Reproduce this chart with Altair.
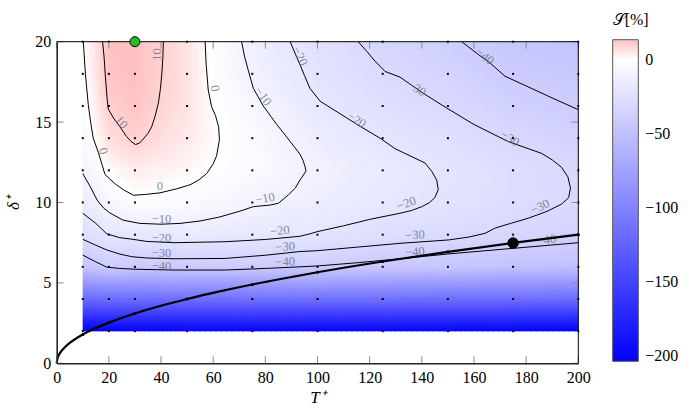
import altair as alt
import pandas as pd

FONT = "Liberation Serif"
W, H = 521.6, 321.6

# ---- grid of the simulation (T+, delta+) and the value S [%] at each node ----
T_VALUES = [10, 20, 30, 50, 75, 100, 125, 150, 175, 200]
D_VALUES = [20, 18, 16, 14, 12, 10, 8, 6, 4, 2]
S_D20 = [-0.5, 13.0, 13.5, 6.0, -13.0, -24.0, -33.0, -38.5, -45.0, -48.0]
S_D18 = [-1.5, 12.5, 13.5, 6.5, -11.0, -22.0, -29.5, -34.5, -41.0, -44.0]
S_D16 = [-3.0, 10.5, 12.5, 6.0, -7.0, -19.0, -26.0, -30.0, -37.0, -40.0]
S_D14 = [-4.5, 7.0, 10.3, 4.5, -4.0, -14.5, -20.5, -26.0, -31.0, -36.0]
S_D12 = [-9.5, 1.0, 4.0, 2.0, -4.0, -11.0, -17.0, -21.5, -27.0, -31.0]
S_D10 = [-16.0, -7.0, -1.0, -4.0, -9.0, -14.0, -18.5, -22.0, -27.5, -29.5]
S_D8 = [-27.0, -19.5, -19.0, -16.0, -18.0, -20.5, -26.0, -29.0, -32.0, -35.0]
S_D6 = [-47.0, -40.0, -42.0, -41.0, -40.0, -40.0, -43.0, -45.0, -48.0, -50.0]
S_D4 = [-118.0, -116.0, -115.0, -114.0, -113.0, -113.0, -113.0, -114.0, -115.0, -116.0]
S_D2 = [-203.0, -202.0, -201.0, -200.0, -200.0, -200.0, -200.0, -200.0, -201.0, -202.0]
S_ROWS = [S_D20, S_D18, S_D16, S_D14, S_D12, S_D10, S_D8, S_D6, S_D4, S_D2]

# ---- contour lines (T+, delta+) ----
CONTOUR_P10 = [(17.6, 20), (18.2, 19), (18.6, 18), (19.3, 16.5), (19.8, 15.8), (22, 15.2), (24.3, 14.7),
               (26.8, 14.1), (28.5, 13.8), (30.2, 13.6), (31.8, 13.7), (33.2, 13.95), (35, 14.3),
               (36.4, 14.7), (37.8, 15.4), (39, 16.2), (39.8, 17.1), (40.3, 18), (40.7, 19), (40.9, 20)]
CONTOUR_0 = [(10.2, 20), (11, 18), (12.1, 16.1), (13, 15), (14, 14), (16, 13.1), (17.5, 12.3), (18.5, 11.75),
             (20.4, 11.45), (22.5, 11.15), (25.5, 10.8), (29.4, 10.45), (34, 10.5), (39.6, 10.6), (46, 10.85),
             (51.1, 11.1), (54.5, 11.4), (57.5, 11.8), (60, 12.4), (61.3, 12.9), (62.4, 13.9), (62.1, 14.7),
             (60.9, 15.4), (59.4, 15.95), (58.1, 17.0), (57.3, 18.6), (56.9, 20)]
CONTOUR_M10 = [(10, 11.8), (12.8, 11.0), (15.5, 10.15), (18, 9.65), (20.4, 9.35), (25.5, 8.9), (31.9, 8.7),
               (40, 8.65), (47.3, 8.7), (55, 8.85), (62.5, 9.1), (70, 9.45), (75.4, 9.74), (81.8, 9.84),
               (85, 9.95), (88.8, 10.47), (91.5, 10.9), (93.3, 11.4), (95.6, 11.95), (95.2, 12.25),
               (94.5, 12.6), (93.3, 13.0), (89.5, 13.8), (84.4, 14.85), (79.2, 16.0), (75.4, 17.1),
               (73.5, 18.2), (72, 19.1), (70.9, 20)]
CONTOUR_M20 = [(10, 9.33), (15, 8.7), (19.2, 8.05), (24, 7.82), (28.8, 7.72), (34.5, 7.58), (45, 7.5),
               (64.5, 7.56), (80, 7.7), (93.3, 7.9), (97.1, 8.05), (99.7, 8.18), (110, 8.55), (120, 8.95),
               (131.6, 9.33), (136, 9.5), (140, 9.74), (143, 10.0), (145, 10.3), (146.3, 10.8), (145.7, 11.4),
               (143.8, 11.94), (141.2, 12.46), (129.7, 13.35), (124, 14.0), (116.3, 14.74), (101, 16.3),
               (97.1, 17.1), (95, 17.9), (93.3, 18.57), (89.5, 20)]
CONTOUR_M30 = [(10, 7.71), (14.5, 7.38), (19.2, 7.05), (24, 6.8), (28.8, 6.63), (34.5, 6.55), (45, 6.5),
               (64.5, 6.52), (80, 6.72), (93.3, 6.95), (99.7, 7.0), (115, 7.22), (131.6, 7.46), (150.2, 7.67),
               (158, 7.85), (164.2, 8.08), (168, 8.4), (174, 8.7), (180.8, 9.02), (188, 9.45), (193.6, 9.9),
               (196.3, 10.3), (197, 10.9), (196, 11.6), (193.5, 12.2), (190, 12.65), (186, 13.05),
               (173, 13.8), (160, 14.85), (149.5, 15.88), (140, 16.85), (131.6, 17.8), (125.9, 18.15),
               (122, 18.8), (118.9, 19.4), (115.6, 20)]
CONTOUR_M40_LOW = [(10, 6.73), (14.5, 6.35), (19.2, 5.98), (24, 5.9), (30, 5.85), (45, 5.8), (64.5, 5.8),
                   (80, 5.9), (93.3, 6.0), (99.7, 6.05), (115, 6.25), (131.6, 6.5), (150, 6.8),
                   (175.1, 7.15), (200, 7.5)]
CONTOUR_M40_HIGH = [(155.3, 20), (161.7, 19.2), (166, 18.7), (171.9, 17.85), (180, 17.25), (190, 16.5),
                    (200, 15.77)]
CONTOURS = [CONTOUR_P10, CONTOUR_0, CONTOUR_M10, CONTOUR_M20, CONTOUR_M30, CONTOUR_M40_LOW, CONTOUR_M40_HIGH]

# ---- contour labels ----
LABEL_TEXT = ["10", "10", "0", "0", "0", "−10", "−10", "−10", "−20", "−20", "−20", "−20", "−20",
              "−30", "−30", "−30", "−30", "−30", "−30", "−40", "−40", "−40", "−40", "−40"]
LABEL_T = [38.3, 24.9, 17.9, 39.6, 60.7, 40.2, 79.9, 79.2, 40.2, 85.6, 134.1, 93.3, 115.0,
           40.2, 87.6, 137.4, 185.3, 138.0, 173.8, 40.2, 87.6, 137.4, 187.8, 164.2]
LABEL_D = [19.2, 15.0, 13.2, 11.0, 17.1, 8.97, 10.26, 16.6, 7.8, 8.25, 9.95, 19.1, 15.15,
           6.86, 7.25, 7.98, 9.74, 17.1, 14.0, 6.08, 6.32, 6.94, 7.67, 19.1]
LABEL_ANGLE = [270, 50, 70, 0, 80, 0, 350, 55, 0, 355, 340, 65, 32,
               0, 357, 357, 335, 32, 30, 0, 357, 356, 352, 38]

# ---- thick curve ----
CURVE_T = [0, 0.25, 0.5, 1, 2, 3, 5, 7.5, 10, 15, 20, 30, 40, 50, 62.5, 75, 87.5, 100, 125, 150, 175, 200]
CURVE_D = [0, 0.28, 0.4, 0.57, 0.8, 0.98, 1.27, 1.55, 1.79, 2.19, 2.53, 3.1, 3.58, 4.0, 4.47, 4.9,
           5.29, 5.66, 6.33, 6.93, 7.49, 8.0]

GREEN_POINT = {"T": [30], "d": [20]}
BLACK_POINT = {"T": [175], "d": [7.48]}

X_TICKS = [0, 20, 40, 60, 80, 100, 120, 140, 160, 180, 200]
Y_TICKS = [0, 5, 10, 15, 20]
CBAR_TICKS = [-200, -150, -100, -50, 0]

# ---------------- tables ----------------
nodes = pd.DataFrame([{"T": t, "d": d, "S": s}
                      for d, row in zip(D_VALUES, S_ROWS) for t, s in zip(T_VALUES, row)])
grid = pd.DataFrame([{"T": t, "d": d} for d in D_VALUES for t in T_VALUES])
cont = pd.DataFrame([{"cid": i, "k": k, "T": p[0], "d": p[1]}
                     for i, c in enumerate(CONTOURS) for k, p in enumerate(c)])
labels = pd.DataFrame({"txt": LABEL_TEXT, "T": LABEL_T, "d": LABEL_D, "ang": LABEL_ANGLE})
curve = pd.DataFrame({"T": CURVE_T, "d": CURVE_D})

# ---------------- scales / axes ----------------
xs = alt.Scale(domain=[0, 200], nice=False, zero=False)
ys = alt.Scale(domain=[0, 20], nice=False, zero=False)
x_axis = alt.Axis(values=X_TICKS, ticks=False, grid=False, domainColor="#262626", domainWidth=1.6,
                  labelFont=FONT, labelFontSize=16, labelColor="black", labelPadding=6, labelFlush=False,
                  labelOverlap=False, format="d", title="T⁺", titleFont=FONT, titleFontSize=17,
                  titleFontStyle="italic", titleFontWeight="normal", titleColor="black", titlePadding=4,
                  zindex=1)
y_axis = alt.Axis(values=Y_TICKS, ticks=False, grid=False, domainColor="#262626", domainWidth=1.6,
                  labelFont=FONT, labelFontSize=16, labelColor="black", labelPadding=6, labelFlush=False,
                  labelOverlap=False, format="d", title="δ⁺", titleFont=FONT, titleFontSize=17,
                  titleFontStyle="italic", titleFontWeight="normal", titleColor="black", titlePadding=12,
                  zindex=1)


def X(f):
    return alt.X(f, type="quantitative", scale=xs, axis=x_axis)


def Y(f):
    return alt.Y(f, type="quantitative", scale=ys, axis=y_axis)


cscale = alt.Scale(domain=[-203.4, 0, 13.5], range=["#0000ff", "#ffffff", "#ffc0c0"],
                   interpolate="rgb", zero=False, nice=False)
clegend = alt.Legend(orient="none", legendX=556, legendY=-30, direction="vertical",
                     gradientLength=H, gradientThickness=25.6, values=CBAR_TICKS,
                     labelFont=FONT, labelFontSize=16, labelColor="black", labelOffset=7,
                     title="𝒮[%]", titleFont=FONT, titleFontSize=16, titleFontWeight="normal",
                     titleColor="black", titlePadding=12, gradientStrokeColor="#555",
                     gradientStrokeWidth=1)

# ---------------- heat map (smooth shading between the grid nodes) ----------------
# each small cell overlaps the next one; drawing order bottom-to-top / left-to-right hides seams
NU = 12
heat = (
    alt.Chart(nodes)
    .transform_window(S_up="lead(S)", d_up="lead(d)", groupby=["T"],
                      sort=[alt.SortField("d", order="ascending")])
    .transform_window(T_right="lead(T)", S_right="lead(S)", S_upright="lead(S_up)", groupby=["d"],
                      sort=[alt.SortField("T", order="ascending")])
    .transform_filter("isValid(datum.S_up) && isValid(datum.T_right)")
    .transform_calculate(nv="datum.d <= 4 ? 28 : 10")
    .transform_calculate(u=f"sequence(0, {NU})")
    .transform_flatten(["u"])
    .transform_calculate(v="sequence(0, datum.nv)")
    .transform_flatten(["v"])
    .transform_calculate(
        a=f"(datum.u + 0.5) / {NU}",
        b="(datum.v + 0.5) / datum.nv",
        x0=f"datum.T + (datum.T_right - datum.T) * datum.u / {NU}",
        x1=f"datum.T + (datum.T_right - datum.T) * (datum.u + 1.7) / {NU}",
        y0="datum.d + (datum.d_up - datum.d) * datum.v / datum.nv",
        y1="datum.d + (datum.d_up - datum.d) * (datum.v + 1.7) / datum.nv",
        val="datum.S * (1 - datum.a) * (1 - datum.b) + datum.S_right * datum.a * (1 - datum.b)"
            " + datum.S_up * (1 - datum.a) * datum.b + datum.S_upright * datum.a * datum.b",
    )
    .mark_rect(clip=True, strokeWidth=0)
    .encode(x=X("x0"), x2="x1", y=Y("y0"), y2="y1",
            color=alt.Color("val:Q", scale=cscale, legend=clegend),
            order=[alt.Order("y0:Q", sort="ascending"), alt.Order("x0:Q", sort="ascending")])
)

contours = alt.Chart(cont).mark_line(color="black", strokeWidth=1, clip=True).encode(
    x=X("T"), y=Y("d"), detail="cid:N", order="k:Q")

clabels = alt.Chart(labels).mark_text(font=FONT, fontSize=12.5, color="#6e6e80", opacity=0.8,
                                      align="center", baseline="middle").encode(
    x=X("T"), y=Y("d"), text="txt:N", angle=alt.Angle("ang:Q", scale=None))

dots = alt.Chart(grid).mark_square(size=4, color="black", opacity=1).encode(x=X("T"), y=Y("d"))

curve_line = alt.Chart(curve).mark_line(color="black", strokeWidth=2.2, interpolate="monotone").encode(
    x=X("T"), y=Y("d"))
curve_pts = (alt.Chart(curve)
             .transform_filter(alt.FieldOneOfPredicate(field="T", oneOf=T_VALUES))
             .mark_circle(size=10, color="black", opacity=1)
             .encode(x=X("T"), y=Y("d")))

TICK = "#8c8c8c"
xt = pd.DataFrame({"T": X_TICKS})
yt = pd.DataFrame({"d": Y_TICKS})
tick_b = alt.Chart(xt).mark_rule(color=TICK, strokeWidth=1).encode(x=X("T"), y=alt.value(H), y2=alt.value(H - 7))
tick_t = alt.Chart(xt).mark_rule(color=TICK, strokeWidth=1).encode(x=X("T"), y=alt.value(0), y2=alt.value(7))
tick_l = alt.Chart(yt).mark_rule(color=TICK, strokeWidth=1).encode(y=Y("d"), x=alt.value(0), x2=alt.value(7))
tick_r = alt.Chart(yt).mark_rule(color=TICK, strokeWidth=1).encode(y=Y("d"), x=alt.value(W), x2=alt.value(W - 7))

one = pd.DataFrame({"k": [0]})
frame_top = alt.Chart(one).mark_rule(color="black", strokeWidth=1).encode(
    x=alt.value(0), x2=alt.value(W), y=alt.value(0))
frame_right = alt.Chart(one).mark_rule(color="black", strokeWidth=1).encode(
    x=alt.value(W), y=alt.value(0), y2=alt.value(H))

green = alt.Chart(pd.DataFrame(GREEN_POINT)).mark_point(
    shape="circle", size=100, filled=True, fill="#22c022", stroke="black", strokeWidth=1, opacity=1
).encode(x=X("T"), y=Y("d"))
black = alt.Chart(pd.DataFrame(BLACK_POINT)).mark_point(
    shape="circle", size=110, filled=True, fill="black", stroke="black", strokeWidth=1, opacity=1
).encode(x=X("T"), y=Y("d"))

chart = alt.layer(
    heat, contours, clabels, dots, curve_line, curve_pts,
    tick_b, tick_t, tick_l, tick_r, frame_top, frame_right, green, black
).properties(
    width=W, height=H,
    padding={"left": 56.7, "top": 41.7, "right": 690 - 56.7 - W, "bottom": 413 - 41.7 - H},
    autosize=alt.AutoSizeParams(type="none"),
).configure_view(stroke=None)

chart.save("out.html", embed_options={"renderer": "svg", "actions": False})
